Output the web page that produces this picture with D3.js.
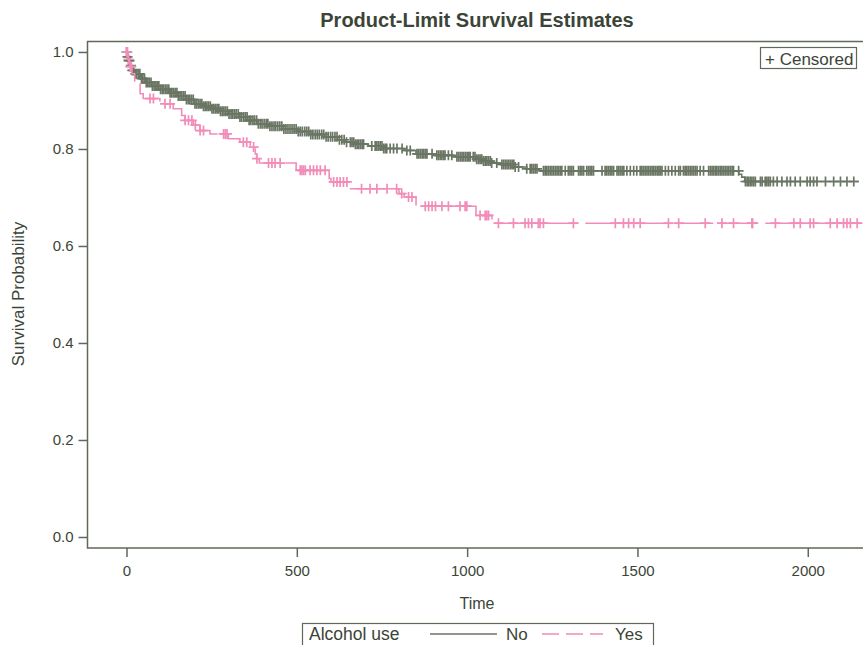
<!DOCTYPE html>
<html lang="en">
<head>
<meta charset="UTF-8">
<title>Product-Limit Survival Estimates</title>
<script src="https://cdn.jsdelivr.net/npm/d3@7"></script>
<style>
  body { margin: 0; background: #fff; }
  svg { display: block; }
  text { font-family: 'Liberation Sans', Arial, sans-serif; fill: #3b4437; }
  .tick text { font-size: 15px; }
</style>
</head>
<body>
<script>
// ---- data ----
const xTicks = [0, 500, 1000, 1500, 2000];
const yTicks = [0, 0.2, 0.4, 0.6, 0.8, 1.0];

// Alcohol use = No : event times and survival after each event
const noTimes = [0, 3, 6, 10, 15, 25, 40, 55, 75, 100, 125, 150, 175, 200, 225, 250, 275, 300, 330, 355,
  385, 420, 460, 500, 540, 580, 620, 645, 670, 710, 755, 815, 850, 900, 960, 1025, 1045, 1070, 1100, 1140,
  1175, 1210, 1798, 1806, 1815];
const noSurv = [1.0, 0.99, 0.982, 0.972, 0.962, 0.955, 0.945, 0.937, 0.93, 0.923, 0.916, 0.909, 0.902, 0.893,
  0.888, 0.883, 0.878, 0.872, 0.866, 0.859, 0.852, 0.847, 0.841, 0.836, 0.830, 0.825, 0.819, 0.814, 0.810,
  0.806, 0.801, 0.797, 0.790, 0.787, 0.784, 0.779, 0.775, 0.771, 0.768, 0.763, 0.759, 0.755, 0.748, 0.742, 0.733];
const noEnd = 2150;
const noCens = [0, 3, 6, 9, 13, 17, 21, 26, 30, 35, 39, 44, 48, 53, 58, 62, 67, 72, 76, 81, 86, 90, 95, 100,
  105, 109, 114, 119, 124, 128, 133, 138, 143, 148, 152, 157, 162, 167, 172, 176, 181, 186, 191, 196, 201,
  206, 211, 216, 221, 226, 231, 236, 241, 246, 251, 256, 261, 266, 271, 276, 281, 286, 291, 296, 301, 307,
  312, 317, 322, 328, 333, 338, 344, 349, 354, 360, 365, 371, 376, 382, 387, 393, 398, 404, 410, 415, 421,
  427, 433, 438, 444, 450, 456, 462, 468, 474, 480, 486, 492, 498, 504, 510, 516, 523, 529, 535, 541, 547,
  554, 560, 566, 573, 579, 586, 592, 599, 605, 612, 618, 625, 632, 639, 646, 657, 662, 667, 672, 677, 682,
  687, 692, 696, 720, 730, 735, 740, 745, 750, 755, 760, 764, 774, 784, 794, 809, 823, 833, 853, 858, 863,
  868, 873, 878, 882, 897, 911, 916, 921, 926, 931, 935, 945, 955, 970, 975, 980, 985, 990, 995, 1000, 1005,
  1009, 1018, 1023, 1028, 1033, 1038, 1043, 1048, 1053, 1058, 1063, 1068, 1072, 1087, 1102, 1107, 1112,
  1117, 1122, 1127, 1132, 1137, 1141, 1151, 1175, 1185, 1190, 1195, 1200, 1205, 1224, 1229, 1234, 1239,
  1244, 1249, 1254, 1259, 1264, 1269, 1274, 1278, 1288, 1297, 1302, 1307, 1312, 1327, 1332, 1337, 1342,
  1351, 1356, 1361, 1366, 1371, 1396, 1405, 1410, 1415, 1420, 1425, 1430, 1440, 1445, 1450, 1455, 1460,
  1469, 1479, 1489, 1498, 1508, 1513, 1518, 1523, 1528, 1533, 1538, 1543, 1548, 1553, 1558, 1563, 1567,
  1572, 1582, 1591, 1601, 1611, 1621, 1626, 1635, 1640, 1645, 1650, 1655, 1660, 1665, 1670, 1675, 1684,
  1694, 1709, 1714, 1719, 1724, 1729, 1733, 1738, 1743, 1748, 1753, 1758, 1763, 1768, 1773, 1778, 1782,
  1797, 1817, 1822, 1826, 1831, 1836, 1841, 1846, 1861, 1866, 1875, 1880, 1885, 1890, 1899, 1910, 1924,
  1939, 1949, 1963, 1978, 1998, 2007, 2017, 2027, 2052, 2076, 2096, 2115, 2135];

// Alcohol use = Yes
const yesTimes = [0, 4, 9, 16, 24, 40, 49, 98, 137, 162, 172, 196, 216, 245, 299, 333, 363, 378, 382, 390,
  498, 595, 600, 652, 800, 815, 850, 1026, 1073];
const yesSurv = [1.0, 0.985, 0.97, 0.955, 0.935, 0.914, 0.904, 0.893, 0.883, 0.869, 0.859, 0.849, 0.838,
  0.831, 0.821, 0.814, 0.804, 0.790, 0.780, 0.771, 0.756, 0.739, 0.732, 0.718, 0.708, 0.701, 0.682, 0.663, 0.647];
const yesEnd = 2160;
const yesCens = [1, 3, 6, 11, 14, 69, 79, 113, 128, 172, 182, 192, 202, 216, 226, 285, 290, 295, 343, 353,
  373, 383, 417, 427, 436, 451, 510, 515, 520, 525, 539, 549, 559, 569, 583, 608, 618, 627, 637, 647, 690,
  715, 735, 765, 793, 808, 828, 838, 877, 887, 897, 907, 926, 945, 979, 994, 999, 1038, 1053, 1058, 1063,
  1092, 1136, 1170, 1180, 1190, 1209, 1214, 1224, 1312, 1435, 1459, 1474, 1489, 1508, 1591, 1621, 1699,
  1748, 1782, 1836, 1838, 1905, 1959, 1978, 2007, 2017, 2066, 2086, 2105, 2115, 2125, 2145];

// ---- layout ----
const width = 863;
const height = 645;
const plotLeft = 87.5, plotRight = 865, plotTop = 41.5, plotBottom = 548;
const frameColor = '#5e6959';
const noColor = '#6a7663';
const yesColor = '#f28cb9';

const svg = d3.select('body').append('svg')
  .attr('width', width)
  .attr('height', height);

const x = d3.scaleLinear()
  .domain([-114.5, 2168])
  .range([plotLeft, plotRight]);
const y = d3.scaleLinear()
  .domain([-0.0227, 1.0216])
  .range([plotBottom, plotTop]);

// axes
const xAxis = svg.append('g')
  .attr('transform', 'translate(0,' + plotBottom + ')')
  .call(d3.axisBottom(x).tickValues(xTicks).tickFormat(d3.format('d'))
    .tickSize(9).tickPadding(8).tickSizeOuter(0));
const yAxis = svg.append('g')
  .attr('transform', 'translate(' + plotLeft + ',0)')
  .call(d3.axisLeft(y).tickValues(yTicks).tickFormat(d3.format('.1f'))
    .tickSize(9).tickPadding(5).tickSizeOuter(0));
[xAxis, yAxis].forEach(function (g) {
  g.select('.domain').remove();
  g.selectAll('.tick line').attr('stroke', frameColor).attr('stroke-width', 1.5);
  g.selectAll('.tick text').attr('fill', '#3b4437');
});

// frame
svg.append('rect')
  .attr('x', plotLeft).attr('y', plotTop)
  .attr('width', plotRight - plotLeft).attr('height', plotBottom - plotTop)
  .attr('fill', 'none')
  .attr('stroke', frameColor)
  .attr('stroke-width', 1.5);

// titles
svg.append('text')
  .attr('x', 477).attr('y', 27)
  .attr('text-anchor', 'middle')
  .attr('font-size', 20)
  .attr('font-weight', 'bold')
  .text('Product-Limit Survival Estimates');
svg.append('text')
  .attr('x', 477).attr('y', 609)
  .attr('text-anchor', 'middle')
  .attr('font-size', 16)
  .text('Time');
svg.append('text')
  .attr('transform', 'translate(24,294) rotate(-90)')
  .attr('text-anchor', 'middle')
  .attr('font-size', 17)
  .text('Survival Probability');

// survival curves
function stepPoints(times, surv, end) {
  const pts = times.map(function (t, i) { return [t, surv[i]]; });
  pts.push([end, surv[surv.length - 1]]);
  return pts;
}
function survAt(times, surv, t) {
  const i = d3.bisectRight(times, t) - 1;
  return surv[Math.max(0, i)];
}
const line = d3.line()
  .x(function (d) { return x(d[0]); })
  .y(function (d) { return y(d[1]); })
  .curve(d3.curveStepAfter);

const groups = [
  { times: noTimes, surv: noSurv, end: noEnd, cens: noCens, color: noColor, dash: null },
  { times: yesTimes, surv: yesSurv, end: yesEnd, cens: yesCens, color: yesColor, dash: '38,7' }
];

groups.forEach(function (g) {
  svg.append('path')
    .datum(stepPoints(g.times, g.surv, g.end))
    .attr('fill', 'none')
    .attr('stroke', g.color)
    .attr('stroke-width', 1.6)
    .attr('stroke-dasharray', g.dash)
    .attr('d', line);

  svg.append('g')
    .selectAll('path')
    .data(g.cens)
    .join('path')
    .attr('transform', function (t) {
      return 'translate(' + x(t) + ',' + y(survAt(g.times, g.surv, t)) + ')';
    })
    .attr('d', 'M-5,0H5M0,-5V5')
    .attr('fill', 'none')
    .attr('stroke', g.color)
    .attr('stroke-width', 1.7);
});

// censored legend (top right)
svg.append('rect')
  .attr('x', 760.5).attr('y', 47.5)
  .attr('width', 96).attr('height', 21)
  .attr('fill', '#fff')
  .attr('stroke', frameColor)
  .attr('stroke-width', 1.2);
svg.append('text')
  .attr('x', 765).attr('y', 64.5)
  .attr('font-size', 17)
  .text('+ Censored');

// group legend (bottom)
const legend = svg.append('g');
legend.append('rect')
  .attr('x', 302.5).attr('y', 623.5)
  .attr('width', 351).attr('height', 30)
  .attr('fill', 'none')
  .attr('stroke', frameColor)
  .attr('stroke-width', 1.2);
legend.append('text')
  .attr('x', 309).attr('y', 640)
  .attr('font-size', 17.5)
  .text('Alcohol use');
legend.append('line')
  .attr('x1', 430).attr('x2', 497).attr('y1', 634).attr('y2', 634)
  .attr('stroke', noColor).attr('stroke-width', 1.6);
legend.append('text')
  .attr('x', 506).attr('y', 640)
  .attr('font-size', 17)
  .text('No');
legend.append('line')
  .attr('x1', 542).attr('x2', 603).attr('y1', 634).attr('y2', 634)
  .attr('stroke', yesColor).attr('stroke-width', 1.6)
  .attr('stroke-dasharray', '17,7');
legend.append('text')
  .attr('x', 615).attr('y', 640)
  .attr('font-size', 17)
  .text('Yes');
</script>
</body>
</html>
